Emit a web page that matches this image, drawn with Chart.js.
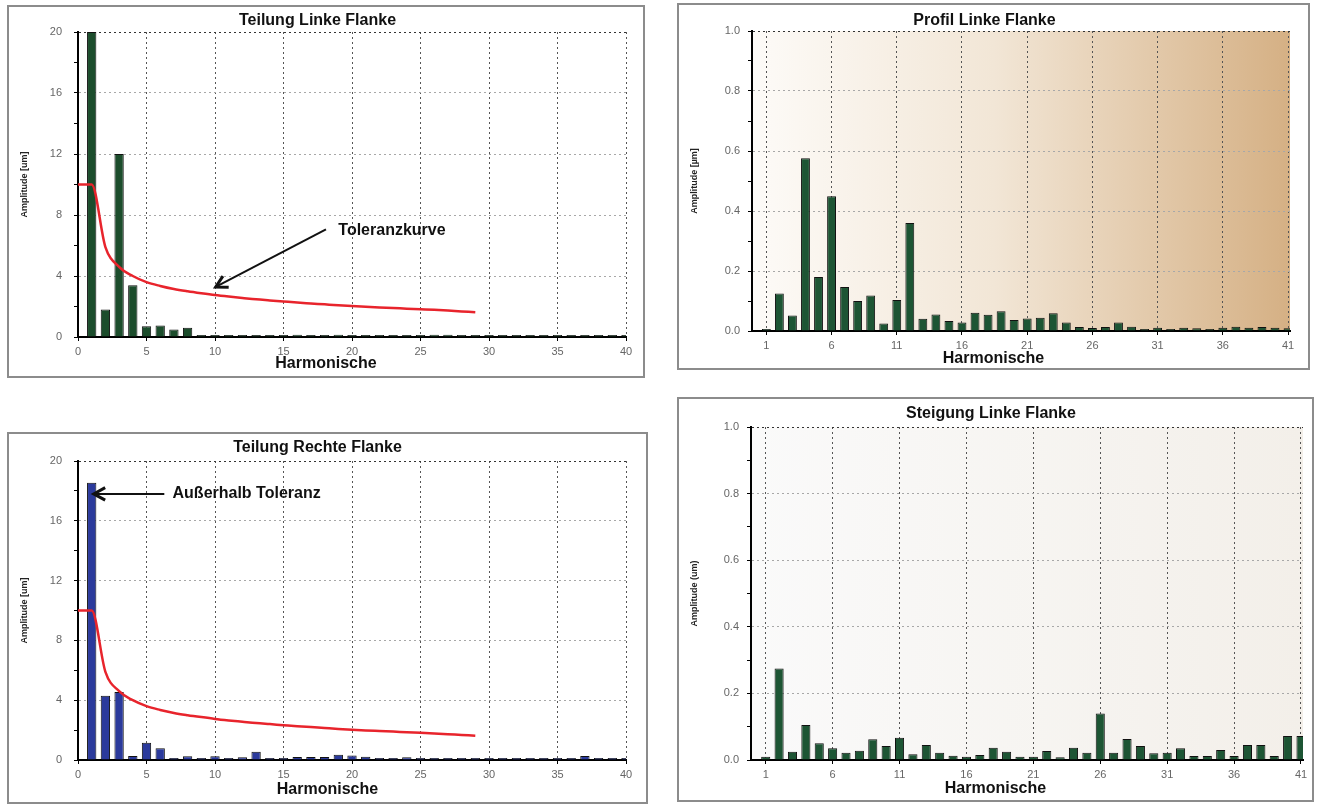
<!DOCTYPE html>
<html>
<head>
<meta charset="utf-8">
<script src="https://cdn.jsdelivr.net/npm/chart.js@4.4.1/dist/chart.umd.min.js"></script>
<style>
  body { margin: 0; background: #fff; width: 1327px; height: 804px; overflow: hidden; position: relative; }
  .panel { position: absolute; border: 2px solid #8c8c8c; background: #fff; box-sizing: border-box; }
  .panel canvas { display: block; }
</style>
</head>
<body>
<div class="panel" style="left:7px;top:5px;width:638px;height:373px"><canvas id="c1" width="634" height="369"></canvas></div>
<div class="panel" style="left:677px;top:3px;width:633px;height:367px"><canvas id="c2" width="629" height="363"></canvas></div>
<div class="panel" style="left:7px;top:432px;width:641px;height:372px"><canvas id="c3" width="637" height="368"></canvas></div>
<div class="panel" style="left:677px;top:397px;width:637px;height:405px"><canvas id="c4" width="633" height="401"></canvas></div>
<script>
// harmonics on the x axis
const harmonics40 = [1, 2, 3, 4, 5, 6, 7, 8, 9, 10, 11, 12, 13, 14, 15, 16, 17, 18, 19, 20,
  21, 22, 23, 24, 25, 26, 27, 28, 29, 30, 31, 32, 33, 34, 35, 36, 37, 38, 39, 40];
const harmonics41 = [1, 2, 3, 4, 5, 6, 7, 8, 9, 10, 11, 12, 13, 14, 15, 16, 17, 18, 19, 20,
  21, 22, 23, 24, 25, 26, 27, 28, 29, 30, 31, 32, 33, 34, 35, 36, 37, 38, 39, 40, 41];

// amplitudes (um)
const teilungLinks = [20, 1.8, 12, 3.4, 0.7, 0.75, 0.5, 0.6, 0.08, 0.1,
  0.08, 0.05, 0.05, 0.05, 0.08, 0.15, 0.12, 0.12, 0.15, 0.12,
  0.1, 0.05, 0.05, 0.05, 0.05, 0.15, 0.15, 0.05, 0.05, 0.03,
  0.03, 0.03, 0.03, 0.03, 0.03, 0.03, 0.03, 0.03, 0.03, 0.03];
const teilungRechts = [18.55, 4.3, 4.55, 0.27, 1.16, 0.78, 0.03, 0.25, 0.03, 0.25,
  0.05, 0.18, 0.55, 0.08, 0.03, 0.2, 0.2, 0.2, 0.35, 0.3,
  0.22, 0.03, 0.03, 0.18, 0.03, 0.05, 0.03, 0.03, 0.03, 0.03,
  0.03, 0.03, 0.03, 0.03, 0.03, 0.03, 0.27, 0.03, 0.03, 0.03];
const profilLinks = [0.005, 0.125, 0.052, 0.576, 0.18, 0.449, 0.147, 0.1, 0.118, 0.025,
  0.103, 0.36, 0.041, 0.055, 0.033, 0.028, 0.061, 0.054, 0.066, 0.037,
  0.042, 0.044, 0.059, 0.028, 0.013, 0.01, 0.013, 0.028, 0.014, 0.005,
  0.011, 0.005, 0.011, 0.009, 0.005, 0.011, 0.014, 0.011, 0.013, 0.011, 0.009];
const steigungLinks = [0.01, 0.275, 0.025, 0.105, 0.05, 0.035, 0.022, 0.028, 0.062, 0.042,
  0.067, 0.017, 0.045, 0.022, 0.013, 0.01, 0.015, 0.037, 0.025, 0.01,
  0.01, 0.027, 0.008, 0.037, 0.022, 0.14, 0.022, 0.063, 0.042, 0.02,
  0.022, 0.035, 0.012, 0.012, 0.03, 0.012, 0.045, 0.045, 0.012, 0.072, 0.072];

// tolerance curve (Toleranzkurve)
const tolHarmonics = [0, 1, 2, 3, 4, 5, 6, 7, 8, 9, 10, 11, 12, 13, 14,
  15, 16, 17, 18, 19, 20, 21, 22, 23, 24, 25, 26, 27, 28, 29];
const tolValues = [10, 10, 5.9, 4.6, 4.0, 3.6, 3.35, 3.15, 3.0, 2.87, 2.75, 2.65, 2.56, 2.47, 2.4,
  2.33, 2.26, 2.2, 2.14, 2.08, 2.03, 1.98, 1.94, 1.9, 1.86, 1.82, 1.78, 1.73, 1.68, 1.63];

const ticksTeilung = [0, 5, 10, 15, 20, 25, 30, 35, 40];
const ticksHarm = [1, 6, 11, 16, 21, 26, 31, 36, 41];

Chart.defaults.font.family = '"Liberation Sans", Arial, sans-serif';

const toPoints = (xs, ys) => xs.map((x, i) => ({ x: x, y: ys[i] }));

// plot background fill
const panelBg = {
  id: 'panelBg',
  beforeDraw(chart, args, opts) {
    if (!opts.stops) return;
    const { ctx, chartArea: a } = chart;
    const g = ctx.createLinearGradient(a.left, 0, a.right, 0);
    opts.stops.forEach(s => g.addColorStop(s[0], s[1]));
    ctx.save();
    ctx.fillStyle = g;
    ctx.fillRect(a.left, a.top, a.width, a.height);
    ctx.restore();
  }
};

// x axis title centred on the panel
const xTitle = {
  id: 'xTitle',
  afterDraw(chart, args, opts) {
    if (!opts.text) return;
    const ctx = chart.ctx;
    ctx.save();
    ctx.font = 'bold 16px "Liberation Sans", Arial, sans-serif';
    ctx.fillStyle = '#111';
    ctx.textAlign = 'center';
    ctx.textBaseline = 'middle';
    ctx.fillText(opts.text, chart.width / 2, opts.y);
    ctx.restore();
  }
};

// text + arrow, placed in data units
const arrowNote = {
  id: 'arrowNote',
  afterDatasetsDraw(chart, args, opts) {
    if (!opts.text) return;
    const { ctx, scales: { x, y } } = chart;
    const tx = x.getPixelForValue(opts.tail[0]), ty = y.getPixelForValue(opts.tail[1]);
    const hx = x.getPixelForValue(opts.head[0]), hy = y.getPixelForValue(opts.head[1]);
    const a = Math.atan2(hy - ty, hx - tx);
    ctx.save();
    ctx.strokeStyle = '#111';
    ctx.lineWidth = 2;
    ctx.beginPath();
    ctx.moveTo(tx, ty);
    ctx.lineTo(hx, hy);
    ctx.stroke();
    ctx.lineWidth = 3;
    ctx.beginPath();
    ctx.moveTo(hx - 13 * Math.cos(a - 0.5), hy - 13 * Math.sin(a - 0.5));
    ctx.lineTo(hx, hy);
    ctx.lineTo(hx - 13 * Math.cos(a + 0.5), hy - 13 * Math.sin(a + 0.5));
    ctx.stroke();
    ctx.font = 'bold 16px "Liberation Sans", Arial, sans-serif';
    ctx.fillStyle = '#111';
    ctx.textBaseline = 'middle';
    ctx.fillText(opts.text, x.getPixelForValue(opts.at[0]), y.getPixelForValue(opts.at[1]));
    ctx.restore();
  }
};

Chart.register(panelBg, xTitle, arrowNote);

function isMajor(v, step) {
  return Math.abs(v / step - Math.round(v / step)) < 1e-6;
}

function buildPanel(id, cfg) {
  const datasets = [{
    type: 'bar',
    data: toPoints(cfg.harmonics, cfg.values),
    backgroundColor: cfg.barColor,
    borderColor: '#111',
    borderWidth: 1,
    barPercentage: 0.68,
    categoryPercentage: 1,
    minBarLength: 2,
    order: 1
  }];
  if (cfg.tolerance) {
    datasets.push({
      type: 'line',
      data: toPoints(tolHarmonics, tolValues),
      borderColor: '#e8242c',
      borderWidth: 2.5,
      pointRadius: 0,
      cubicInterpolationMode: 'monotone',
      order: 0
    });
  }
  return new Chart(document.getElementById(id), {
    type: 'bar',
    data: { datasets: datasets },
    options: {
      responsive: false,
      animation: false,
      layout: { padding: { left: 0, right: cfg.padRight, top: 0, bottom: 0 } },
      plugins: {
        legend: { display: false },
        tooltip: { enabled: false },
        title: {
          display: true,
          text: cfg.title,
          color: '#111',
          font: { size: 16, weight: 'bold' },
          padding: { top: cfg.titleTop, bottom: cfg.titleBottom }
        },
        panelBg: { stops: cfg.bg },
        xTitle: { text: 'Harmonische', y: cfg.xTitleY },
        arrowNote: cfg.note || {}
      },
      scales: {
        x: {
          type: 'linear',
          min: cfg.xMin,
          max: cfg.xMax,
          offset: false,
          afterBuildTicks: s => { s.ticks = cfg.xTicks.map(v => ({ value: v })); },
          afterFit: s => { s.height = cfg.xh; },
          grid: {
            offset: false,
            color: c => c.tick.value === cfg.xMin ? 'rgba(0,0,0,0)' : '#555',
            tickColor: '#000',
            tickLength: 4
          },
          border: { color: '#000', width: 2, dash: [2, 3] },
          ticks: { color: '#666', font: { size: 11 }, padding: 4, maxRotation: 0, autoSkip: false }
        },
        y: {
          min: 0,
          max: cfg.yMax,
          afterFit: s => { s.width = cfg.left; },
          grid: {
            color: c => {
              const v = c.tick.value;
              if (v === 0 || !isMajor(v, cfg.yMajor)) return 'rgba(0,0,0,0)';
              return Math.abs(v - cfg.yMax) < 1e-6 ? '#333' : '#a8a8a8';
            },
            tickColor: '#000',
            tickLength: 4
          },
          border: { color: '#000', width: 2, dash: [2, 3] },
          ticks: {
            stepSize: cfg.yMinor,
            autoSkip: false,
            color: '#666',
            font: { size: 11 },
            padding: cfg.yPad,
            callback: v => isMajor(v, cfg.yMajor) ? v.toFixed(cfg.yDigits) : ''
          },
          title: {
            display: true,
            text: cfg.yTitle,
            color: '#222',
            font: { size: 9, weight: 'bold' },
            padding: { top: 10, bottom: 0 }
          }
        }
      }
    }
  });
}

buildPanel('c1', {
  title: 'Teilung Linke Flanke', titleTop: 4.4, titleBottom: 1.4,
  harmonics: harmonics40, values: teilungLinks, barColor: '#1c4d2c', tolerance: true,
  xMin: 0, xMax: 40, xTicks: ticksTeilung, xh: 39, xTitleY: 357,
  yMax: 20, yMinor: 2, yMajor: 4, yDigits: 0, yPad: 12, left: 69, padRight: 17,
  yTitle: 'Amplitude [um]',
  note: { text: 'Toleranzkurve', tail: [18.1, 7.05], head: [10.05, 3.28], at: [19.0, 6.95] }
});

buildPanel('c2', {
  title: 'Profil Linke Flanke', titleTop: 5.9, titleBottom: 0.9,
  harmonics: harmonics41, values: profilLinks, barColor: '#1d5534',
  xMin: -0.1, xMax: 41.15, xTicks: ticksHarm, xh: 37, xTitleY: 354,
  yMax: 1.0, yMinor: 0.1, yMajor: 0.2, yDigits: 1, yPad: 8, left: 73, padRight: 18,
  yTitle: 'Amplitude [µm]',
  bg: [[0, '#fdfbf8'], [0.45, '#f2e6d6'], [1, '#d5b084']]
});

buildPanel('c3', {
  title: 'Teilung Rechte Flanke', titleTop: 4.4, titleBottom: 3.4,
  harmonics: harmonics40, values: teilungRechts, barColor: '#2b3a9c', tolerance: true,
  xMin: 0, xMax: 40, xTicks: ticksTeilung, xh: 42, xTitleY: 356,
  yMax: 20, yMinor: 2, yMajor: 4, yDigits: 0, yPad: 12, left: 69, padRight: 20,
  yTitle: 'Amplitude [um]',
  note: { text: 'Außerhalb Toleranz', tail: [6.3, 17.8], head: [1.15, 17.8], at: [6.9, 17.8] }
});

buildPanel('c4', {
  title: 'Steigung Linke Flanke', titleTop: 5.4, titleBottom: 3.4,
  harmonics: harmonics41, values: steigungLinks, barColor: '#1d5534',
  xMin: -0.1, xMax: 41.15, xTicks: ticksHarm, xh: 40, xTitleY: 390,
  yMax: 1.0, yMinor: 0.1, yMajor: 0.2, yDigits: 1, yPad: 8, left: 72, padRight: 9,
  yTitle: 'Amplitude (um)',
  bg: [[0, '#fafafa'], [1, '#f3efe9']]
});
</script>
</body>
</html>
